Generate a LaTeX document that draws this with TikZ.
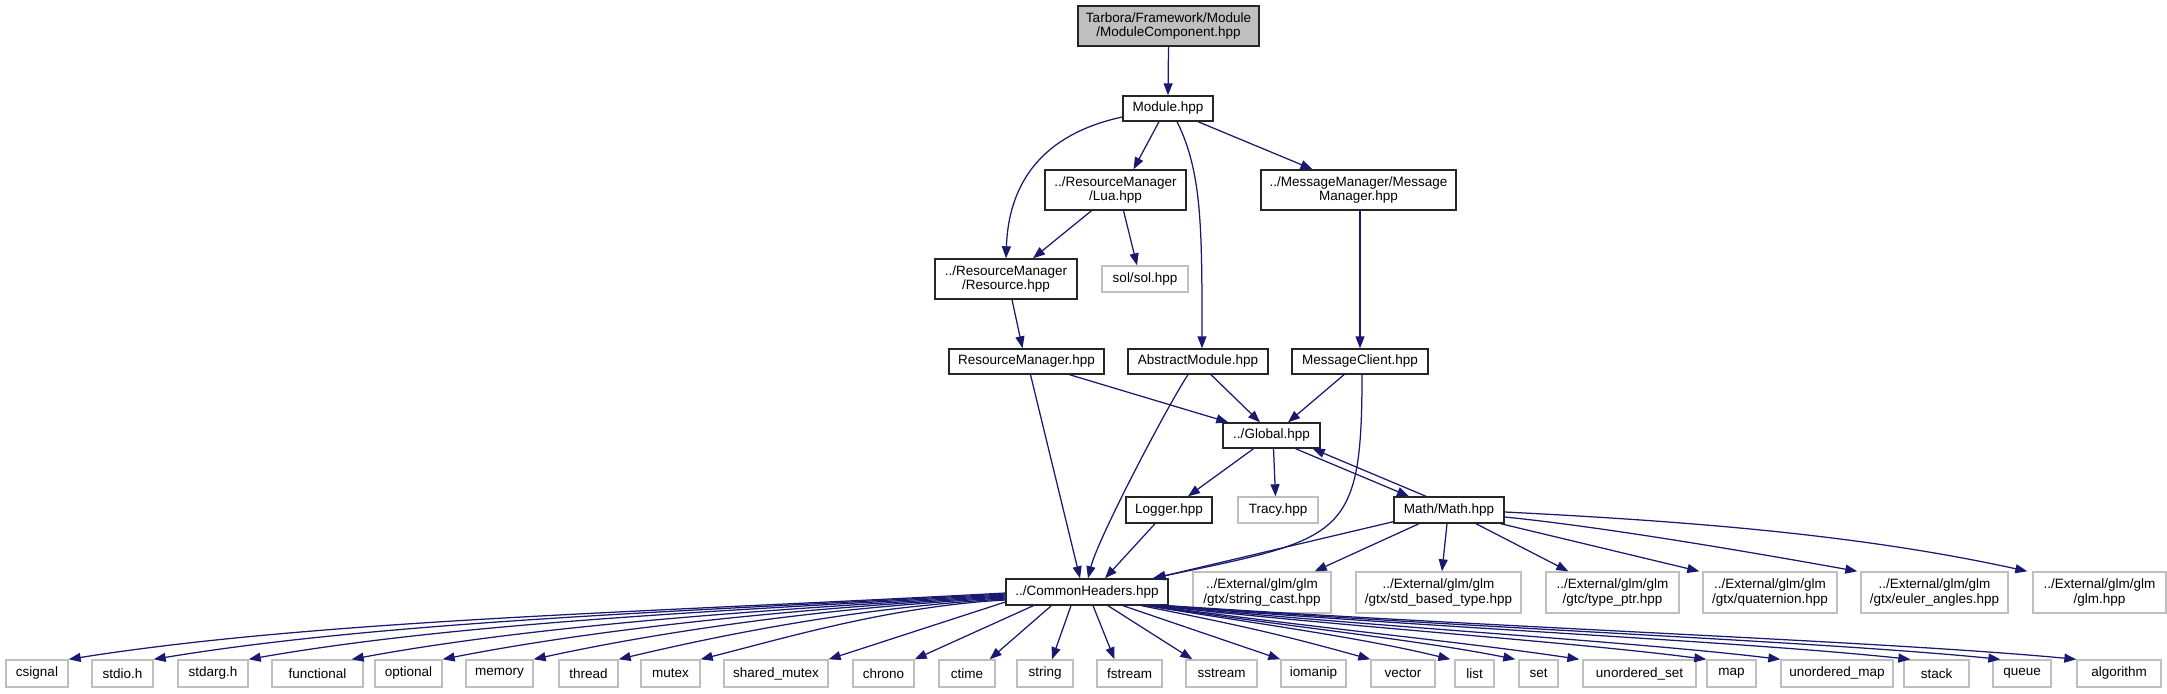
\documentclass[tikz,border=0pt]{standalone}
\usepackage{fontspec}
\setmainfont{Liberation Sans}
\usetikzlibrary{arrows.meta,calc}
\definecolor{edgecol}{HTML}{191970}
\definecolor{extcol}{HTML}{BFBFBF}
\begin{document}
\begin{tikzpicture}[x=1pt,y=-1pt,
  box/.style={rectangle, inner sep=0pt, align=center, font=\fontsize{13.5}{14.5}\selectfont, line width=1.4pt},
  doc/.style={box, draw=black!85, fill=white},
  ext/.style={box, draw=extcol, fill=white},
  root/.style={box, draw=black!85, fill=extcol},
  sz/.style 2 args={minimum width=#1pt, minimum height=#2pt},
  e/.style={draw=edgecol, line width=1.25pt, -{Triangle[length=12pt,width=9pt]}},
]
\useasboundingbox (0,0) rectangle (2167,693);

% main nodes
\node[root, sz={181}{40}] (mc) at (1168.5,26) {Tarbora/Framework/Module\\/ModuleComponent.hpp};
\node[doc, sz={90}{25}] (module) at (1168,108.5) {Module.hpp};
\node[doc, sz={141}{40}] (lua) at (1115.5,190) {../ResourceManager\\/Lua.hpp};
\node[doc, sz={195}{40}] (msgmgr) at (1358.5,190) {../MessageManager/Message\\Manager.hpp};
\node[doc, sz={142}{40}] (resource) at (1006,279) {../ResourceManager\\/Resource.hpp};
\node[ext, sz={86}{26}] (sol) at (1145,279) {sol/sol.hpp};
\node[doc, sz={155}{25}] (resmgr) at (1026.5,361.5) {ResourceManager.hpp};
\node[doc, sz={140}{25}] (abstract) at (1198,361.5) {AbstractModule.hpp};
\node[doc, sz={136}{25}] (msgclient) at (1360,361.5) {MessageClient.hpp};
\node[doc, sz={97}{25}] (global) at (1271.5,435.5) {../Global.hpp};
\node[doc, sz={86}{26}] (logger) at (1169,510) {Logger.hpp};
\node[ext, sz={80}{26}] (tracy) at (1278,510) {Tracy.hpp};
\node[doc, sz={110}{26}] (math) at (1449,510) {Math/Math.hpp};
\node[doc, sz={162}{26}] (common) at (1087,592) {../CommonHeaders.hpp};

% glm nodes
\node[ext, sz={138}{41}] (sc) at (1262,592.5) {../External/glm/glm\\/gtx/string\_cast.hpp};
\node[ext, sz={165}{41}] (sbt) at (1438.5,592.5) {../External/glm/glm\\/gtx/std\_based\_type.hpp};
\node[ext, sz={133}{41}] (tp) at (1612.5,592.5) {../External/glm/glm\\/gtc/type\_ptr.hpp};
\node[ext, sz={134}{41}] (quat) at (1770,592.5) {../External/glm/glm\\/gtx/quaternion.hpp};
\node[ext, sz={147}{41}] (euler) at (1934.5,592.5) {../External/glm/glm\\/gtx/euler\_angles.hpp};
\node[ext, sz={133}{41}] (glm) at (2099.5,592.5) {../External/glm/glm\\/glm.hpp};

% std headers
\node[ext, sz={62}{27}] (csignal) at (37,673.5) {csignal};
\node[ext, sz={61}{27}] (stdio) at (122.5,673.5) {stdio.h};
\node[ext, sz={70}{27}] (stdarg) at (213,673.5) {stdarg.h};
\node[ext, sz={91}{27}] (functional) at (317.5,673.5) {functional};
\node[ext, sz={67}{27}] (optional) at (408.5,673.5) {optional};
\node[ext, sz={67}{27}] (memory) at (499.5,673.5) {memory};
\node[ext, sz={59}{27}] (thread) at (588.5,673.5) {thread};
\node[ext, sz={59}{27}] (mutex) at (670.5,673.5) {mutex};
\node[ext, sz={104}{27}] (smutex) at (776,673.5) {shared\_mutex};
\node[ext, sz={61}{27}] (chrono) at (883.5,673.5) {chrono};
\node[ext, sz={56}{27}] (ctime) at (967,673.5) {ctime};
\node[ext, sz={56}{27}] (string) at (1045,673.5) {string};
\node[ext, sz={65}{27}] (fstream) at (1129.5,673.5) {fstream};
\node[ext, sz={71}{27}] (sstream) at (1221.5,673.5) {sstream};
\node[ext, sz={65}{27}] (iomanip) at (1313.5,673.5) {iomanip};
\node[ext, sz={64}{27}] (vector) at (1403,673.5) {vector};
\node[ext, sz={39}{27}] (list) at (1474.5,673.5) {list};
\node[ext, sz={39}{27}] (set) at (1538.5,673.5) {set};
\node[ext, sz={113}{27}] (uset) at (1639.5,673.5) {unordered\_set};
\node[ext, sz={49}{27}] (map) at (1731.5,673.5) {map};
\node[ext, sz={112}{27}] (umap) at (1837,673.5) {unordered\_map};
\node[ext, sz={65}{27}] (stack) at (1936.5,673.5) {stack};
\node[ext, sz={58}{27}] (queue) at (2022,673.5) {queue};
\node[ext, sz={84}{27}] (algorithm) at (2119,673.5) {algorithm};

% upper edges
\draw[e] (mc.south) -- (module.north);
\draw[e] ([xshift=-9pt]module.south) -- ([xshift=18pt]lua.north);
\draw[e] ([yshift=-8.5pt]module.west) .. controls +(-70,15) and +(3,-85) .. (resource.north);
\draw[e] ([xshift=9pt]module.south) .. controls +(25,50) and +(0,-120) .. ([xshift=4pt]abstract.north);
\draw[e] ([xshift=30pt]module.south) -- ([xshift=-46pt]msgmgr.north);
\draw[e] ([xshift=-24pt]lua.south) -- ([xshift=27pt]resource.north);
\draw[e] ([xshift=8pt]lua.south) -- ([xshift=-8pt]sol.north);
\draw[e] ([xshift=6pt]resource.south) -- ([xshift=-4pt]resmgr.north);
\draw[e] ([xshift=1.5pt]msgmgr.south) -- (msgclient.north);
\draw[e] ([xshift=43pt]resmgr.south) -- ([xshift=6pt]global.north west);
\draw[e] ([xshift=4pt]resmgr.south) -- ([xshift=-7pt]common.north);
\draw[e] ([xshift=13pt]abstract.south) -- ([xshift=-11.5pt]global.north);
\draw[e] ([xshift=-10pt]abstract.south) .. controls +(-20,30) and +(10,-40) .. ([xshift=1pt]common.north);
\draw[e] ([xshift=-16pt]msgclient.south) -- ([xshift=16.5pt]global.north);
\draw[e] ([xshift=2pt]msgclient.south) .. controls +(0,165) and +(190,-40) .. ([xshift=-16pt]common.north east);
\draw[e] ([xshift=-18pt]global.south) -- ([xshift=19pt]logger.north);
\draw[e] ([xshift=2pt]global.south) -- ([xshift=-2.5pt]tracy.north);
\draw[e] ([xshift=24pt]global.south) -- ([xshift=-40pt]math.north);
\draw[e] ([xshift=-23pt]math.north) -- ([xshift=-8pt]global.south east);
\draw[e] ([xshift=-14pt]logger.south) -- ([xshift=18pt]common.north);
\draw[e] ([yshift=2pt]math.south west) -- ([xshift=-15pt]common.north east);

% Math edges
\draw[e] ([xshift=-30pt]math.south) -- ([xshift=-17pt]sc.north east);
\draw[e] ([xshift=-2pt]math.south) -- ([xshift=3.5pt]sbt.north);
\draw[e] ([xshift=27pt]math.south) -- ([xshift=23pt]tp.north west);
\draw[e] ([xshift=-4pt]math.south east) -- ([xshift=-3pt]quat.north west);
\draw[e] ([yshift=-7pt]math.east) .. controls +(100,10) and +(-100,-18) .. ([xshift=-3pt]euler.north west);
\draw[e] ([yshift=-2pt]math.east) .. controls +(200,10) and +(-160,-35) .. ([xshift=-5pt]glm.north west);

% CommonHeaders left fan
\draw[e] ([yshift=-1pt]common.west) .. controls +(-347,19) and +(253,-40) .. (csignal.north east);
\draw[e] ([yshift=-2pt]common.west) .. controls +(-316,17) and +(230,-38) .. (stdio.north east);
\draw[e] ([yshift=-3pt]common.west) .. controls +(-280,15) and +(205,-36) .. (stdarg.north east);
\draw[e] ([yshift=-4pt]common.west) .. controls +(-242,13) and +(177,-33) .. ([xshift=-12pt]functional.north east);
\draw[e] ([yshift=-5pt]common.west) .. controls +(-209,11) and +(152,-30) .. (optional.north east);
\draw[e] ([yshift=-6pt]common.west) .. controls +(-175,9) and +(128,-28) .. (memory.north east);
\draw[e] ([yshift=-7pt]common.west) .. controls +(-144,8) and +(105,-25) .. (thread.north east);
\draw[e] ([yshift=-8pt]common.west) .. controls +(-113,6) and +(83,-21) .. (mutex.north east);
\draw[e] ([yshift=-10pt]common.west) -- (smutex.north east);
% straight
\draw[e] ([xshift=28pt]common.south west) -- (chrono.north east);
\draw[e] ([xshift=46pt]common.south west) -- ([xshift=-6pt]ctime.north east);
\draw[e] ([xshift=-16pt]common.south) -- ([xshift=7pt]string.north);
\draw[e] ([xshift=6pt]common.south) -- ([xshift=-15pt]fstream.north);
\draw[e] ([xshift=21pt]common.south) -- ([xshift=7pt]sstream.north west);
\draw[e] ([xshift=36pt]common.south) -- (iomanip.north west);
\draw[e] ([xshift=-27pt]common.south east) .. controls +(100,20) and +(-90,-25) .. (vector.north west);
% right bundle
\draw[e] ([xshift=-22pt]common.south east) .. controls +(110,18) and +(-90,-22) .. ([xshift=-4pt]list.north west);
\draw[e] ([xshift=-19pt]common.south east) .. controls +(130,20) and +(-100,-20) .. ([xshift=-3pt]set.north west);
\draw[e] ([xshift=-16pt]common.south east) .. controls +(160,22) and +(-120,-18) .. ([xshift=-3pt]uset.north west);
\draw[e] ([xshift=-13pt]common.south east) .. controls +(200,22) and +(-140,-18) .. (map.north west);
\draw[e] ([xshift=-10pt]common.south east) .. controls +(230,22) and +(-150,-18) .. (umap.north west);
\draw[e] ([xshift=-7pt]common.south east) .. controls +(270,22) and +(-170,-18) .. ([xshift=7pt]stack.north west);
\draw[e] ([xshift=-4pt]common.south east) .. controls +(300,22) and +(-180,-18) .. ([xshift=8pt]queue.north west);
\draw[e] (common.south east) .. controls +(330,22) and +(-190,-18) .. (algorithm.north west);
\end{tikzpicture}
\end{document}
